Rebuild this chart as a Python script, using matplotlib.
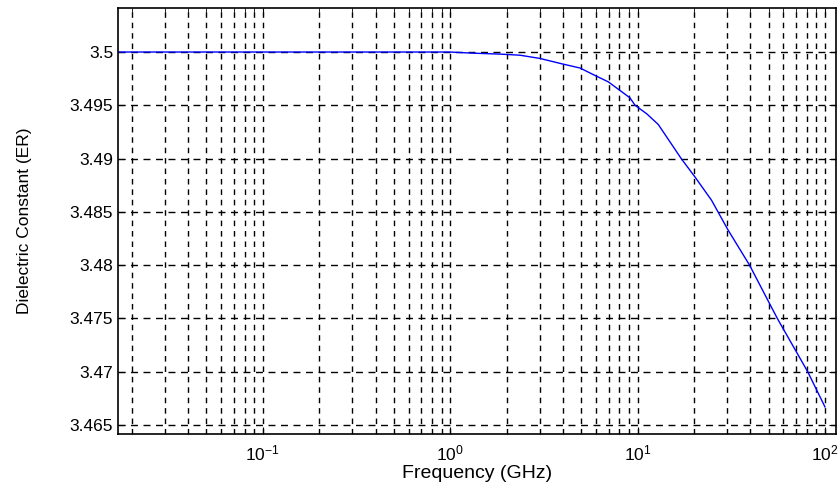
import numpy as np
import matplotlib
matplotlib.use('Agg')
from matplotlib import pyplot as plt
from matplotlib.ticker import LogLocator, FixedLocator, FormatStrFormatter

# datos
freq_ghz = [0.0169, 0.1, 0.5, 1.0, 1.29, 1.87, 2.36, 3.01, 3.93, 4.93, 5.93,
            6.98, 8.05, 9.11, 9.7, 11.2, 12.9, 17.1, 20.2, 24.8, 30.4, 39.6,
            50.6, 56.1, 80.9, 100]
er = [3.5, 3.5, 3.5, 3.5, 3.4999, 3.4998, 3.4997, 3.4994, 3.4989, 3.4985, 3.4978,
      3.4972, 3.4964, 3.4957, 3.4950, 3.4942, 3.4932, 3.4900, 3.4883, 3.4861, 3.4833, 3.4800,
      3.4764, 3.4749, 3.4700, 3.4667]
y_ticks = [3.465, 3.47, 3.475, 3.48, 3.485, 3.49, 3.495, 3.5]

plt.rcParams['font.family'] = ['Liberation Sans', 'DejaVu Sans']

fig = plt.figure(figsize=(8.38, 4.9), dpi=100)
ax = fig.add_axes([118/838, 1-434/490, (836-118)/838, (434-8)/490])

ax.semilogx(freq_ghz, er, color='#0000ff', linewidth=1.0)

ax.set_xlim(0.0169, 114.5)
ax.set_ylim(3.46416, 3.50413)

ax.xaxis.set_major_locator(LogLocator(base=10, numticks=10))
ax.xaxis.set_minor_locator(LogLocator(base=10, subs=np.arange(2, 10), numticks=20))
ax.yaxis.set_major_locator(FixedLocator(y_ticks))
ax.yaxis.set_major_formatter(FormatStrFormatter('%g'))

# rejilla negra punteada
ax.grid(True, which='major', axis='y', color='black', linestyle=(0, (5, 4)), linewidth=1.0)
ax.grid(True, which='both', axis='x', color='black', linestyle=(0, (4, 3.5)), linewidth=1.0)

ax.tick_params(which='both', direction='in', top=True, right=True, labelsize=12.5)
ax.tick_params(axis='x', which='major', pad=7)
ax.tick_params(which='major', length=5)
ax.tick_params(which='minor', length=3)
for s in ax.spines.values():
    s.set_linewidth(1.2)

ax.set_xlabel('Frequency (GHz)', fontsize=14, labelpad=1)
ax.set_ylabel('Dielectric Constant (ER)', fontsize=12.5, labelpad=27)

fig.savefig('out.png', dpi=100)
